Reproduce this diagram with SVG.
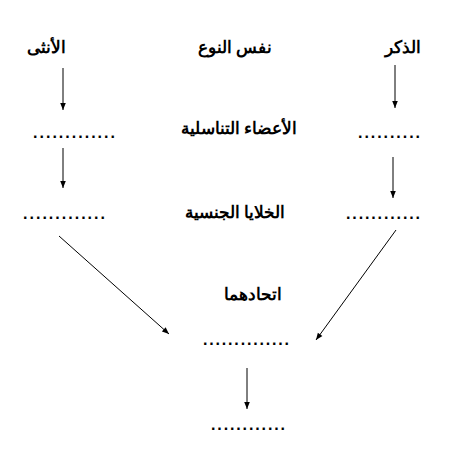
<svg xmlns="http://www.w3.org/2000/svg" width="476" height="458" viewBox="0 0 476 458">
<defs>
<marker id="ah" viewBox="0 0 10 10" refX="10" refY="5" markerWidth="8" markerHeight="7" markerUnits="userSpaceOnUse" orient="auto">
<path d="M0,1 L10,5 L0,9 Z" fill="#000"/>
</marker>
<style>
.t{font-family:"Liberation Sans",Arial,"Noto Sans",sans-serif;font-size:16.5px;font-weight:bold;fill:#000;text-anchor:middle}
.d{font-family:"Liberation Sans",Arial,sans-serif;font-size:16px;font-weight:bold;fill:#000}
.c{stroke:#000;stroke-width:1;fill:none;marker-end:url(#ah)}
</style>
</defs>
<rect width="476" height="458" fill="#fff"/>
<g id="female"><text class="t" x="46" y="53">الأنثى</text></g>
<g id="species"><text class="t" x="235" y="53">نفس النوع</text></g>
<g id="male"><text class="t" x="403" y="53">الذكر</text></g>
<g id="organs"><text class="t" x="239" y="134">الأعضاء التناسلية</text></g>
<g id="organs-f"><text class="d" x="33" y="138" textLength="82" lengthAdjust="spacing">.............</text></g>
<g id="organs-m"><text class="d" x="358" y="138" textLength="62" lengthAdjust="spacing">..........</text></g>
<g id="cells"><text class="t" x="235" y="218">الخلايا الجنسية</text></g>
<g id="cells-f"><text class="d" x="23" y="219" textLength="82" lengthAdjust="spacing">.............</text></g>
<g id="cells-m"><text class="d" x="346" y="219" textLength="74" lengthAdjust="spacing">............</text></g>
<g id="union"><text class="t" x="253" y="300">اتحادهما</text></g>
<g id="union-d"><text class="d" x="203" y="345" textLength="86" lengthAdjust="spacing">..............</text></g>
<g id="result"><text class="d" x="211" y="430" textLength="74" lengthAdjust="spacing">............</text></g>
<g id="connectors">
<line class="c" x1="63" y1="68" x2="63" y2="110"/>
<line class="c" x1="395" y1="65" x2="395" y2="108"/>
<line class="c" x1="63" y1="148" x2="63" y2="188"/>
<line class="c" x1="393" y1="157" x2="393" y2="198"/>
<line class="c" x1="59" y1="236" x2="169" y2="334"/>
<line class="c" x1="396" y1="230" x2="316" y2="340"/>
<line class="c" x1="247" y1="368" x2="247" y2="409"/>
</g>
</svg>
